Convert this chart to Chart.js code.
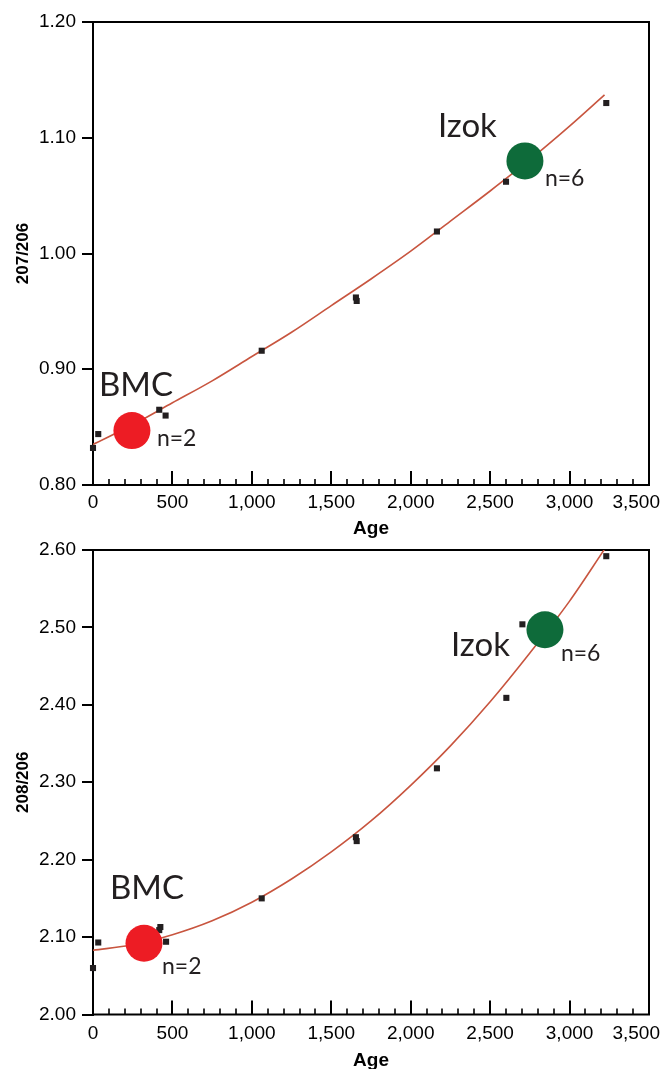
<!DOCTYPE html>
<html><head><meta charset="utf-8">
<script src="https://cdn.jsdelivr.net/npm/chart.js@4.4.1/dist/chart.umd.min.js"></script>
<style>
html,body{margin:0;padding:0;background:#fff;}
#wrap{position:relative;width:662px;height:1069px;overflow:hidden;background:#fff;}
canvas{position:absolute;left:0;}
</style></head><body>
<div id="wrap">
<canvas id="c1" width="662" height="540" style="top:0px"></canvas>
<canvas id="c2" width="662" height="529" style="top:540px"></canvas>
</div>
<script>
// ---------- DATA ----------
const xTickValues = [0, 500, 1000, 1500, 2000, 2500, 3000, 3500];
const xMinorStep = 100;

// 207/206 panel
const age207 = [0, 33, 417, 457, 1062, 1655, 1660, 2165, 2600, 3231];
const ratio207 = [0.832, 0.844, 0.865, 0.860, 0.916, 0.962, 0.959, 1.019, 1.062, 1.130];
const fitAge207 = [0, 250, 500, 750, 1000, 1250, 1500, 1750, 2000, 2250, 2500, 2750, 3000, 3220];
const fit207 = [0.835, 0.852, 0.871, 0.890, 0.911, 0.932, 0.955, 0.978, 1.002, 1.028, 1.054, 1.081, 1.110, 1.137];
const siteNames = ['BMC', 'Izok'];
const siteN207 = ['n=2', 'n=6'];
const siteAge207 = [245, 2719];
const siteRatio207 = [0.847, 1.080];
const yTicks207 = [0.80, 0.90, 1.00, 1.10, 1.20];

// 208/206 panel
const age208 = [0, 33, 424, 417, 460, 1062, 1655, 1660, 2165, 2602, 2703, 3231];
const ratio208 = [2.060, 2.093, 2.113, 2.109, 2.094, 2.150, 2.229, 2.224, 2.318, 2.409, 2.504, 2.592];
const fitAge208 = [0, 250, 500, 750, 1000, 1250, 1500, 1750, 2000, 2250, 2500, 2750, 3000, 3220];
const fit208 = [2.083, 2.090, 2.103, 2.121, 2.145, 2.175, 2.210, 2.250, 2.296, 2.347, 2.404, 2.467, 2.534, 2.601];
const siteN208 = ['n=2', 'n=6'];
const siteAge208 = [321, 2845];
const siteRatio208 = [2.092, 2.497];
const yTicks208 = [2.00, 2.10, 2.20, 2.30, 2.40, 2.50, 2.60];

// ---------- STYLE ----------
const siteColors = ['#ed1c24', '#0e6b3a'];
const labelOffsets1 = { name: [[-33, -35], [-87, -24]], n: [[25, 15], [20, 25]] };
const labelOffsets2 = { name: [[-34, -44], [-94, 26]], n: [[18, 31], [16, 31]] };

Chart.defaults.font.family = "'Liberation Sans', Arial, sans-serif";
Chart.defaults.color = '#000';

function pts(xs, ys) { return xs.map((x, i) => ({ x: x, y: ys[i] })); }

const decoPlugin = {
  id: 'deco',
  beforeDatasetsDraw(chart) {
    const { ctx, chartArea: a, scales: { x } } = chart;
    ctx.save();
    ctx.strokeStyle = '#000';
    ctx.lineWidth = 2;
    ctx.strokeRect(a.left, a.top, a.right - a.left, a.bottom - a.top);
    for (let v = x.min; v <= x.max + 0.001; v += xMinorStep) {
      const px = Math.round(x.getPixelForValue(v));
      const major = xTickValues.includes(v);
      ctx.lineWidth = major ? 2 : 1.6;
      ctx.beginPath();
      ctx.moveTo(px, a.bottom);
      ctx.lineTo(px, a.bottom - (major ? 14 : 6));
      ctx.stroke();
    }
    ctx.fillStyle = '#000';
    ctx.font = "19px 'Liberation Sans', Arial, sans-serif";
    ctx.textAlign = 'center';
    ctx.textBaseline = 'middle';
    const ly = a.bottom + chart.options.plugins.deco.labelGap;
    xTickValues.forEach(v => {
      const t = v.toLocaleString('en-US');
      const w = ctx.measureText(t).width;
      let px = x.getPixelForValue(v);
      if (px + w / 2 > chart.width - 2) px = chart.width - 2 - w / 2;
      ctx.fillText(t, px, ly);
    });
    ctx.restore();
  },
  afterDatasetsDraw(chart) {
    const o = chart.options.plugins.deco;
    const { ctx, scales: { x, y } } = chart;
    ctx.save();
    ctx.fillStyle = '#231f20';
    ctx.textAlign = 'left';
    ctx.textBaseline = 'alphabetic';
    o.siteAge.forEach((ag, i) => {
      const px = x.getPixelForValue(ag), py = y.getPixelForValue(o.siteVal[i]);
      ctx.font = "33px Lato, 'Open Sans', sans-serif";
      ctx.fillText(o.names[i], px + o.offsets.name[i][0], py + o.offsets.name[i][1]);
      ctx.font = "23px Lato, 'Open Sans', sans-serif";
      ctx.fillText(o.counts[i], px + o.offsets.n[i][0], py + o.offsets.n[i][1]);
    });
    ctx.restore();
  }
};

function makeChart(id, cfg) {
  return new Chart(document.getElementById(id), {
    type: 'scatter',
    data: {
      datasets: [
        { data: pts(cfg.siteAge, cfg.siteVal), pointStyle: 'circle', pointRadius: 18.5,
          backgroundColor: siteColors, borderWidth: 0, clip: false },
        { data: pts(cfg.age, cfg.val), pointStyle: 'rect', pointRadius: 4.3,
          backgroundColor: '#231f20', borderWidth: 0, clip: false },
        { data: pts(cfg.fitAge, cfg.fit), showLine: true, pointRadius: 0, borderColor: '#c8553f', borderWidth: 1.6,
          cubicInterpolationMode: 'monotone', fill: false }
      ]
    },
    options: {
      responsive: false, animation: false, events: [],
      devicePixelRatio: 1,
      layout: { autoPadding: false, padding: { top: cfg.padTop, right: 13, left: 0, bottom: 0 } },
      plugins: {
        legend: { display: false }, tooltip: { enabled: false },
        deco: { labelGap: cfg.labelGap, siteAge: cfg.siteAge, siteVal: cfg.siteVal,
          names: siteNames, counts: cfg.counts, offsets: cfg.offsets }
      },
      scales: {
        x: {
          type: 'linear', min: 0, max: 3500,
          ticks: { display: false, stepSize: 500 },
          grid: { display: false },
          border: { display: false },
          title: { display: true, text: 'Age', font: { size: 19, weight: 'bold' }, color: '#000', padding: { top: 0, bottom: cfg.titleBottom } },
          afterFit: s => { s.height = cfg.xHeight; s.paddingLeft = 0; s.paddingRight = 0; }
        },
        y: {
          type: 'linear', min: cfg.yTicks[0], max: cfg.yTicks[cfg.yTicks.length - 1],
          afterBuildTicks: s => { s.ticks = cfg.yTicks.map(v => ({ value: v })); },
          ticks: { padding: 6, font: { size: 19 }, color: '#000', callback: v => Number(v).toFixed(2) },
          grid: { drawOnChartArea: false, drawTicks: true, tickLength: 11, color: '#000', lineWidth: 2 },
          border: { display: true, color: '#000', width: 2 },
          title: { display: true, text: cfg.yTitle, font: { size: 17, weight: 'bold' }, color: '#000', padding: { top: 13, bottom: 0 } },
          afterFit: s => { s.width = 93; s.paddingTop = 0; s.paddingBottom = 0; }
        }
      }
    },
    plugins: [decoPlugin]
  });
}

makeChart('c1', {
  age: age207, val: ratio207, fitAge: fitAge207, fit: fit207,
  siteAge: siteAge207, siteVal: siteRatio207, counts: siteN207,
  yTicks: yTicks207, yTitle: '207/206', offsets: labelOffsets1,
  padTop: 22, xHeight: 55, labelGap: 18, titleBottom: 0
});
makeChart('c2', {
  age: age208, val: ratio208, fitAge: fitAge208, fit: fit208,
  siteAge: siteAge208, siteVal: siteRatio208, counts: siteN208,
  yTicks: yTicks208, yTitle: '208/206', offsets: labelOffsets2,
  padTop: 10, xHeight: 54.5, labelGap: 19, titleBottom: -3
});
</script>
</body></html>
